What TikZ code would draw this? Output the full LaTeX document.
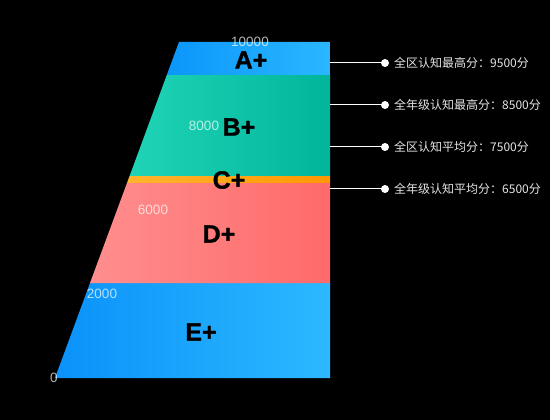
\documentclass[tikz,border=0pt]{standalone}
\usepackage{fontspec}
\setmainfont{Liberation Sans}
\newfontfamily\cjk{Noto Sans CJK SC}
\newfontfamily\gradefont[FakeBold=1.2]{Liberation Sans Bold}
\begin{document}
\begin{tikzpicture}[x=1pt,y=-1pt,
  grade/.style={font=\gradefont\fontsize{25}{25}\selectfont, text=black, inner sep=0pt},
  axisval/.style={font=\fontsize{13.5}{13.5}\selectfont, text=white, text opacity=0.7, inner sep=0pt},
  dot/.style={circle, fill=white, minimum size=8pt, inner sep=0pt},
  lead/.style={draw=white, line width=1pt},
  note/.style={font=\cjk\fontsize{12}{12}\selectfont, text=white!90!black, anchor=west, inner sep=0pt}]
\fill[black] (0,0) rectangle (550,420);
\useasboundingbox (0,0) rectangle (550,420);
% bands
\shade[left color={rgb,255:red,10;green,146;blue,250}, right color={rgb,255:red,44;green,185;blue,255}]
  (55,378) -- (90,283) -- (330,283) -- (330,378) -- cycle;
\shade[left color={rgb,255:red,255;green,142;blue,142}, right color={rgb,255:red,255;green,106;blue,106}]
  (90,283) -- (127,183) -- (330,183) -- (330,283) -- cycle;
\shade[left color={rgb,255:red,255;green,181;blue,46}, right color={rgb,255:red,255;green,152;blue,0}]
  (127,183) -- (129.6,176) -- (330,176) -- (330,183) -- cycle;
\shade[left color={rgb,255:red,32;green,212;blue,182}, right color={rgb,255:red,0;green,181;blue,155}]
  (129.6,176) -- (166.8,75) -- (330,75) -- (330,176) -- cycle;
\shade[left color={rgb,255:red,11;green,150;blue,251}, right color={rgb,255:red,42;green,183;blue,255}]
  (166.8,75) -- (179,42) -- (330,42) -- (330,75) -- cycle;
% grade letters
\node[grade] (ga) at (251,60) {A+};
\node[grade] (gb) at (239,127) {B+};
\node[grade] (gc) at (229,180) {C+};
\node[grade] (gd) at (219,234) {D+};
\node[grade] (ge) at (201,332) {E+};
% axis values
\node[axisval] (v10) at (250,42) {10000};
\node[axisval] (v8) at (204,126) {8000};
\node[axisval] (v6) at (153,210) {6000};
\node[axisval] (v2) at (102,294) {2000};
\node[axisval] (v0) at (54,378) {0};
% callouts
\coordinate (r1) at (330,63);
\coordinate (r2) at (330,105);
\coordinate (r3) at (330,147);
\coordinate (r4) at (330,189);
\node[dot] (d1) at (385,63) {};
\node[dot] (d2) at (385,105) {};
\node[dot] (d3) at (385,147) {};
\node[dot] (d4) at (385,189) {};
\draw[lead] (r1) -- (d1.center);
\draw[lead] (r2) -- (d2.center);
\draw[lead] (r3) -- (d3.center);
\draw[lead] (r4) -- (d4.center);
\node[note] (t1) at (394,63) {全区认知最高分：9500分};
\node[note] (t2) at (394,105) {全年级认知最高分：8500分};
\node[note] (t3) at (394,147) {全区认知平均分：7500分};
\node[note] (t4) at (394,189) {全年级认知平均分：6500分};
\end{tikzpicture}
\end{document}
